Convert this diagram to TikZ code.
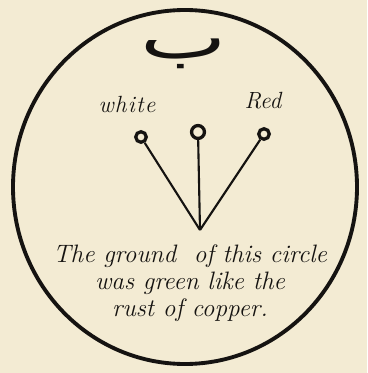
\documentclass[tikz,border=0pt]{standalone}
\usepackage{fontspec}
\usepackage{tikz}
\usetikzlibrary{positioning,calc,backgrounds}
\TeXXeTstate=1
\newfontfamily\arabicfont[Script=Arabic]{DejaVu Sans}
\definecolor{paper}{HTML}{F3EBD3}
\definecolor{inkblack}{HTML}{151311}

\begin{document}
\begin{tikzpicture}[x=0.03cm, y=-0.03cm, line width=1.8pt, inkblack,
  rim/.style={draw=inkblack, line width=3.3pt},
  pin/.style={circle, draw=inkblack, line width=2.8pt, fill=paper, inner sep=0pt, minimum size=9pt},
  lab/.style={font=\fontsize{20}{22}\selectfont\itshape, text=inkblack},
  note/.style={font=\fontsize{21.5}{23}\selectfont\itshape, text=inkblack, align=center}]
\fill[paper] (0,0) rectangle (367,373);
\useasboundingbox (0,0) rectangle (367,373);
\coordinate (ctr) at (185,187);
\draw[rim] (ctr) ellipse [x radius=172, y radius=177];
\node[text=inkblack, anchor=base, inner sep=0pt] (ba) at (184,59)
  {\scalebox{1.45}[0.95]{\fontsize{54}{54}\arabicfont\beginR ب\endR}};
\node[lab] (white) at (127,104) {w\kern1pt h\kern1pt i\kern1pt t\kern1pt e};
\node[lab] (red) at (263,101) {Red};
\coordinate (apex) at (200,230);
\node[pin] (pw) at (141,137) {};
\node[pin, minimum size=11pt] (pm) at (198,132) {};
\node[pin] (pr) at (264,134) {};
\foreach \p in {pw,pm,pr} \draw (apex) -- (\p);
\node[note] (txt) at (190,283) {The ground\ \ of this circle\\ was green like the\\ rust of copper.};
\end{tikzpicture}
\end{document}
